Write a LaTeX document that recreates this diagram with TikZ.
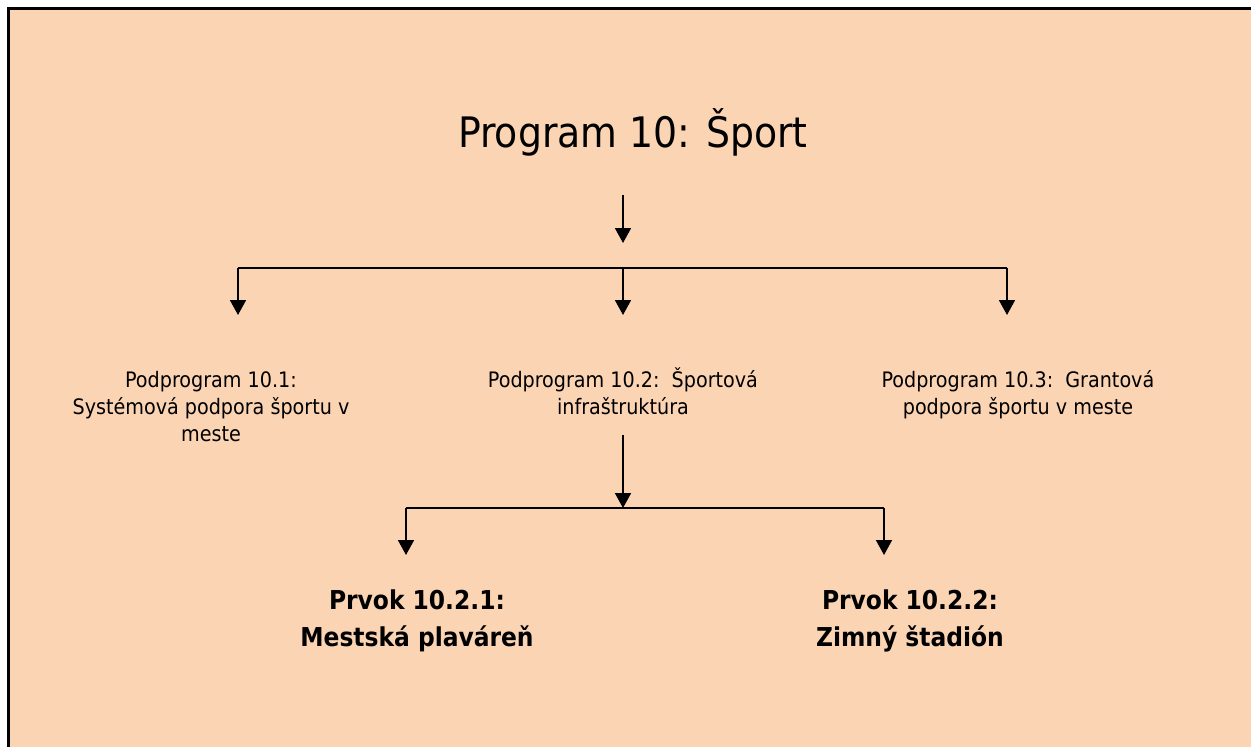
\documentclass[tikz,border=0pt]{standalone}
\usepackage{fontspec}
\setmainfont{DejaVu Sans Condensed}
\usetikzlibrary{arrows.meta}
\definecolor{peach}{RGB}{251,212,180}

\begin{document}
\begin{tikzpicture}[x=1pt,y=-1pt,
  arr/.style={-{Triangle[width=16pt,length=15pt]},line width=1.8pt},
  bus/.style={line width=1.8pt},
  sub/.style={align=center,anchor=base,inner sep=0pt,font=\fontsize{21.3}{27}\selectfont},
  elem/.style={align=center,anchor=base,inner sep=0pt,font=\bfseries\fontsize{26}{37}\selectfont}]
  \useasboundingbox (0,0) rectangle (1251,747);
  \fill[white] (0,0) rectangle (1251,747);
  \fill[peach] (7,7) rectangle (1251,747);
  \draw[line width=3pt] (8.5,747) -- (8.5,8.5) -- (1251,8.5);

  % texts (anchor base = last line)
  \node[anchor=base,inner sep=0pt,font=\fontsize{42}{50}\selectfont] (title) at (633,147) {Program 10: Šport};
  \node[sub] (sub1) at (211,441) {Podprogram 10.1:\\Systémová podpora športu v\\meste};
  \node[sub] (sub2) at (623,414) {Podprogram 10.2:\ \ Športová\\infraštruktúra};
  \node[sub] (sub3) at (1018,414) {Podprogram 10.3:\ \ Grantová\\podpora športu v meste};
  \node[elem] (elem1) at (417,646) {Prvok 10.2.1:\\Mestská plaváreň};
  \node[elem] (elem2) at (910,646) {Prvok 10.2.2:\\Zimný štadión};

  \coordinate (top1) at (623,195);
  \coordinate (top2) at (623,243);
  \coordinate (busL) at (238,268);
  \coordinate (busM) at (623,268);
  \coordinate (busR) at (1007,268);
  \coordinate (tipL) at (238,315);
  \coordinate (tipM) at (623,315);
  \coordinate (tipR) at (1007,315);
  \coordinate (mid1) at (623,435);
  \coordinate (bus2L) at (406,508);
  \coordinate (bus2M) at (623,508);
  \coordinate (bus2R) at (884,508);
  \coordinate (tip2L) at (406,555);
  \coordinate (tip2R) at (884,555);

  \draw[arr] (top1) -- (top2);
  \draw[bus] (busL) -- (busR);
  \draw[arr] (busL) -- (tipL);
  \draw[arr] (busM) -- (tipM);
  \draw[arr] (busR) -- (tipR);
  \draw[arr] (mid1) -- (bus2M);
  \draw[bus] (bus2L) -- (bus2R);
  \draw[arr] (bus2L) -- (tip2L);
  \draw[arr] (bus2R) -- (tip2R);
\end{tikzpicture}
\end{document}
